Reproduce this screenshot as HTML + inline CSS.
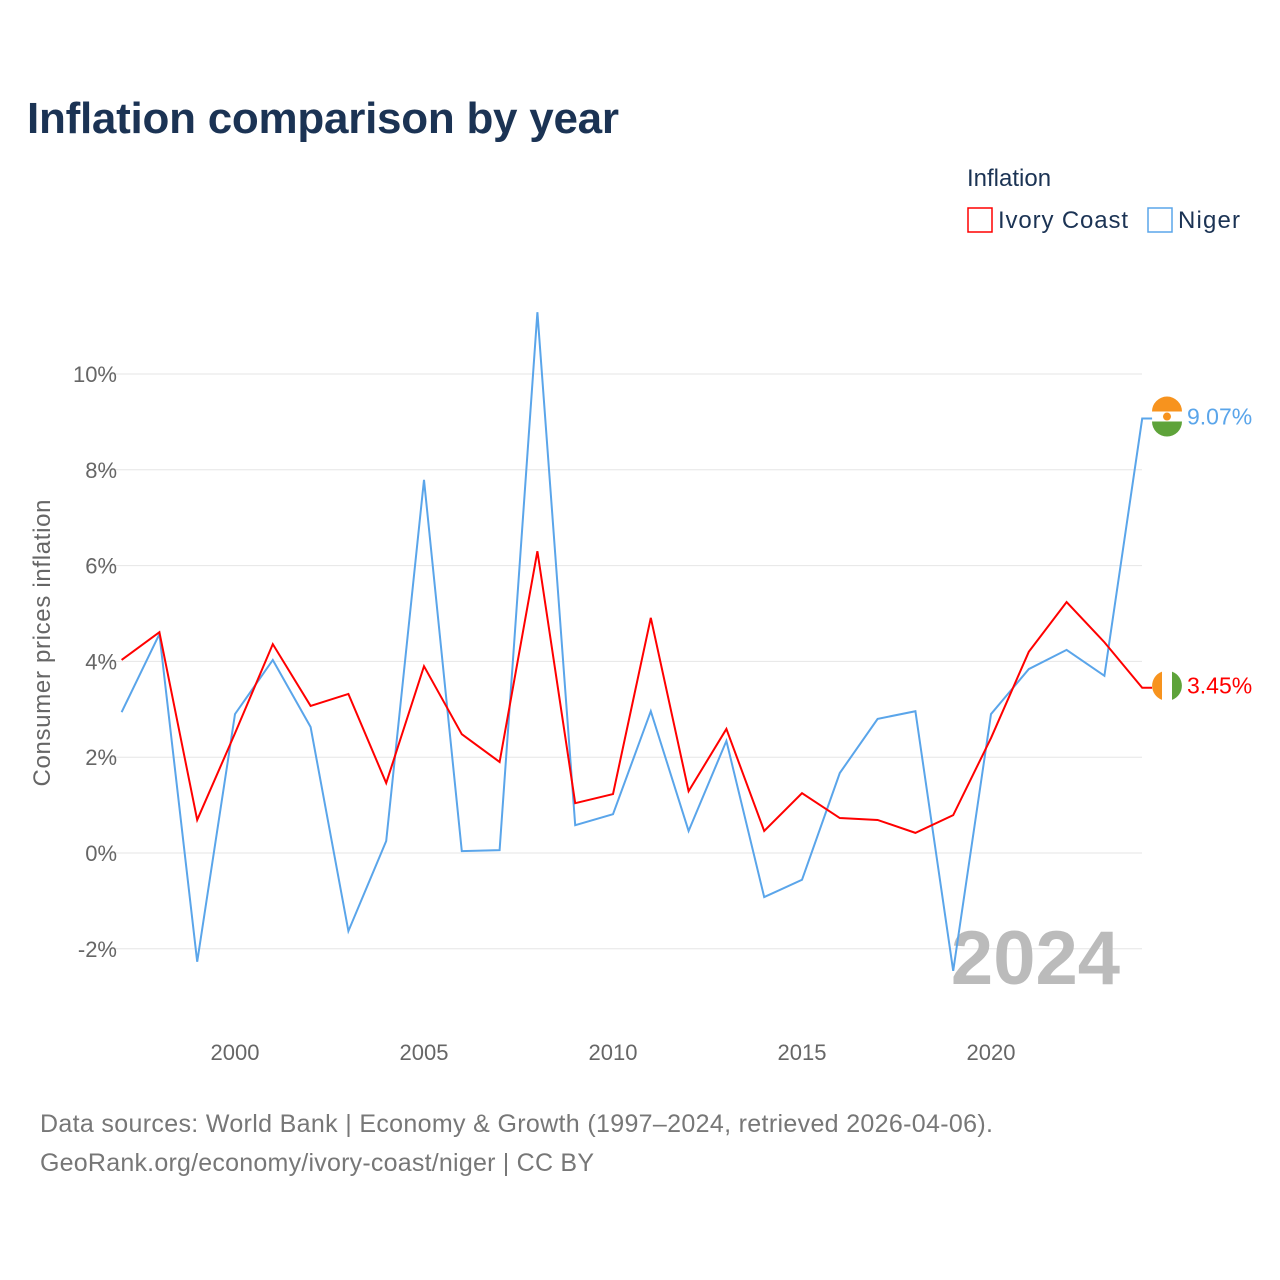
<!DOCTYPE html>
<html><head><meta charset="utf-8"><style>
body{margin:0;background:#fff;font-family:"Liberation Sans",sans-serif;}
#wrap{position:relative;width:1280px;height:1280px;overflow:hidden;}
</style></head><body>
<div id="wrap">
<svg id="chart" width="1280" height="1280">
<text x="27" y="133" font-size="44" font-weight="bold" fill="#1b3354" textLength="592">Inflation comparison by year</text>
<text x="967" y="186" font-size="24" fill="#1b3354">Inflation</text>
<g><rect x="968" y="208" width="24" height="24" fill="none" stroke="#f00" stroke-width="1.5"/><text x="998" y="228" font-size="24" fill="#1b3354" textLength="130">Ivory Coast</text></g>
<g><rect x="1148" y="208" width="24" height="24" fill="none" stroke="#5aa5ea" stroke-width="1.5"/><text x="1178" y="228" font-size="24" fill="#1b3354" textLength="62">Niger</text></g>
<g id="grid"></g><g id="yticks"></g><g id="xticks"></g>
<text x="1120" y="984" font-size="76" font-weight="bold" fill="#bbb" text-anchor="end">2024</text>
<g id="lines"></g><g id="ends"></g>
<text transform="translate(50,643) rotate(-90)" font-size="24" fill="#666" text-anchor="middle" textLength="287">Consumer prices inflation</text>
<text x="40" y="1132" font-size="25" fill="#777" textLength="953">Data sources: World Bank | Economy &amp; Growth (1997–2024, retrieved 2026-04-06).</text>
<text x="40" y="1171" font-size="25" fill="#777" textLength="554">GeoRank.org/economy/ivory-coast/niger | CC BY</text>
</svg>
</div>
<script>
const years=[1997,1998,1999,2000,2001,2002,2003,2004,2005,2006,2007,2008,2009,2010,2011,2012,2013,2014,2015,2016,2017,2018,2019,2020,2021,2022,2023,2024];
const ivoryCoast=[4.03,4.61,0.69,2.5,4.36,3.07,3.32,1.46,3.90,2.48,1.90,6.30,1.04,1.23,4.91,1.29,2.59,0.46,1.25,0.73,0.69,0.42,0.79,2.4,4.20,5.24,4.40,3.45];
const niger=[2.94,4.57,-2.27,2.90,4.03,2.63,-1.63,0.25,7.79,0.04,0.06,11.29,0.58,0.81,2.96,0.46,2.34,-0.92,-0.56,1.67,2.80,2.96,-2.46,2.90,3.84,4.24,3.70,9.07];
const yTicks=[-2,0,2,4,6,8,10];
const xTicks=[2000,2005,2010,2015,2020];
const NS="http://www.w3.org/2000/svg";
const X=y=>121.6+(y-1997)*37.8;
const Y=v=>853-v*47.9;
function mk(t,a,p){const e=document.createElementNS(NS,t);for(const k in a)e.setAttribute(k,a[k]);p.appendChild(e);return e;}
const grid=document.getElementById('grid'),yt=document.getElementById('yticks'),xt=document.getElementById('xticks');
yTicks.forEach(v=>{
 const l=mk('line',{x1:100,x2:1142,y1:Y(v),y2:Y(v),stroke:'#e6e6e6','stroke-width':1},grid);
 
 
 const t=mk('text',{x:117,y:Y(v)+8,'font-size':22,fill:'#666','text-anchor':'end'},yt);
 t.textContent=v+'%';
 
 
});
xTicks.forEach(v=>{
 const t=mk('text',{x:X(v),y:1060,'font-size':22,fill:'#666','text-anchor':'middle'},xt);
 t.textContent=v;
 
 
});
const lines=document.getElementById('lines'),ends=document.getElementById('ends');
[[niger,'#5aa5ea','niger'],[ivoryCoast,'#f00','ivory-coast']].forEach(([d,c,n])=>{
 const p=mk('polyline',{points:d.map((v,i)=>X(years[i])+','+Y(v)).join(' ')+' '+(X(2024)+10)+','+Y(d[d.length-1]),fill:'none',stroke:c,'stroke-width':2},lines);
 
 
 const v=d[d.length-1],cy=Y(v)-2;
 const g=mk('g',{},ends);
 
 
 if(n==='niger'){
  mk('circle',{cx:1167,cy:cy,r:15,fill:'#fff'},g);
  mk('path',{d:`M1152 ${cy-5} A15 15 0 0 1 1182 ${cy-5} Z`,fill:'#f7931e'},g);
  mk('path',{d:`M1152 ${cy+5} A15 15 0 0 0 1182 ${cy+5} Z`,fill:'#5ea33a'},g);
  mk('circle',{cx:1167,cy:cy,r:4,fill:'#f7931e'},g);
 }else{
  mk('circle',{cx:1167,cy:cy,r:15,fill:'#fff'},g);
  mk('path',{d:`M1162 ${cy-14.1} A15 15 0 0 0 1162 ${cy+14.1} Z`,fill:'#f7931e'},g);
  mk('path',{d:`M1172 ${cy-14.1} A15 15 0 0 1 1172 ${cy+14.1} Z`,fill:'#5ea33a'},g);
 }
 const t=mk('text',{x:1187,y:cy+8,'font-size':23,fill:c},g);
 t.textContent=v.toFixed(2)+'%';
});
</script>
</body></html>
